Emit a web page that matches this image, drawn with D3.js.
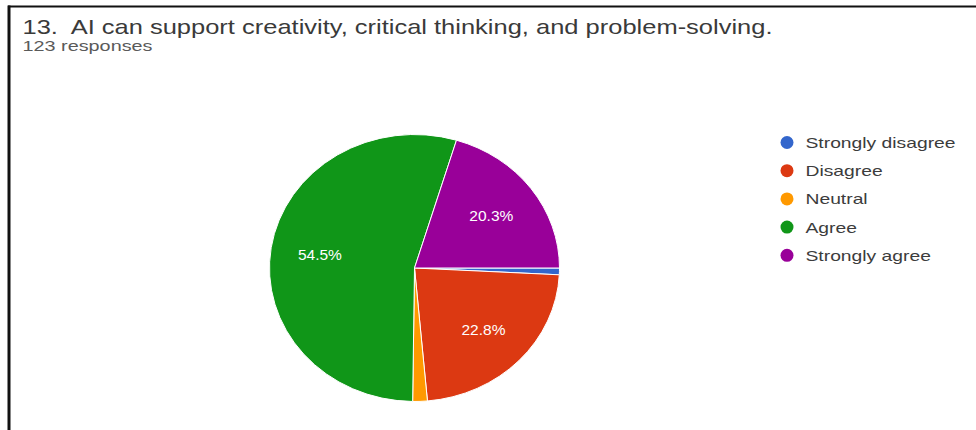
<!DOCTYPE html>
<html>
<head>
<meta charset="utf-8">
<script src="https://cdn.jsdelivr.net/npm/d3@7"></script>
<style>
  html, body { margin: 0; padding: 0; background: #fff; }
  svg { display: block; font-family: "Liberation Sans", Arial, sans-serif; }
  svg text { white-space: pre; }
</style>
</head>
<body>
<svg id="chart" width="976" height="430"></svg>
<script>
// Survey question and answer counts
const questionTitle = "13.  AI can support creativity, critical thinking, and problem-solving.";
const responseNote = "123 responses";
const categories = ["Strongly disagree", "Disagree", "Neutral", "Agree", "Strongly agree"];
const counts = [1, 28, 2, 67, 25];
const colors = ["#3366cc", "#dc3912", "#ff9900", "#109618", "#990099"];

const svg = d3.select("#chart");
const total = d3.sum(counts);

// Stretch a text element horizontally by a factor, using its natural length
function stretch(sel, factor) {
  sel.each(function () {
    const n = this.getComputedTextLength();
    d3.select(this).attr("textLength", n * factor).attr("lengthAdjust", "spacingAndGlyphs");
  });
}

// Frame lines (top and left)
svg.append("line").attr("x1", 8).attr("x2", 976).attr("y1", 6.5).attr("y2", 6.5)
  .attr("stroke", "#111").attr("stroke-width", 2);
svg.append("line").attr("x1", 9).attr("x2", 9).attr("y1", 5.5).attr("y2", 430)
  .attr("stroke", "#111").attr("stroke-width", 3);

// Title and response count
svg.append("text").attr("x", 22.5).attr("y", 34)
  .attr("font-size", 21).attr("fill", "#3a3a3a")
  .attr("textLength", 750).attr("lengthAdjust", "spacingAndGlyphs")
  .text(questionTitle);
svg.append("text").attr("x", 22.5).attr("y", 51)
  .attr("font-size", 14.5).attr("fill", "#5a5a5a")
  .attr("textLength", 130).attr("lengthAdjust", "spacingAndGlyphs")
  .text(responseNote);

// Pie
const cx = 414.5, cy = 268, ry = 133.5, rx = 145;
const sx = rx / ry;

const pie = d3.pie().sort(null).value(d => d.value)
  .startAngle(Math.PI / 2).endAngle(Math.PI / 2 + 2 * Math.PI);
const data = categories.map((c, i) => ({ name: c, value: counts[i], color: colors[i] }));
const arcs = pie(data);

const arc = d3.arc().innerRadius(0).outerRadius(ry);
const labelArc = d3.arc().innerRadius(ry * 0.66).outerRadius(ry * 0.66);

const pieG = svg.append("g").attr("transform", `translate(${cx},${cy}) scale(${sx},1)`);
pieG.selectAll("path").data(arcs).join("path")
  .attr("d", arc)
  .attr("fill", d => d.data.color)
  .attr("stroke", "#fff")
  .attr("stroke-width", 1)
  .attr("vector-effect", "non-scaling-stroke");

// Percentage labels on the larger slices
const labelG = svg.append("g").attr("transform", `translate(${cx},${cy})`);
labelG.selectAll("text").data(arcs.filter(d => d.data.value / total > 0.05)).join("text")
  .attr("x", d => labelArc.centroid(d)[0] * sx)
  .attr("y", d => labelArc.centroid(d)[1])
  .attr("text-anchor", "middle")
  .attr("dominant-baseline", "central")
  .attr("font-size", 15.5)
  .attr("fill", "#fff")
  .text(d => (d.data.value / total * 100).toFixed(1) + "%");

// Legend
const legend = svg.append("g").attr("transform", "translate(787,142.5)");
const item = legend.selectAll("g").data(data).join("g")
  .attr("transform", (d, i) => `translate(0,${i * 28.2})`);
item.append("circle").attr("r", 6.5).attr("fill", d => d.color);
const legendText = item.append("text").attr("x", 18.5).attr("y", 5.5)
  .attr("font-size", 15).attr("fill", "#3c3c3c")
  .text(d => d.name);
const natural = legendText.filter((d, i) => i === 0).node().getComputedTextLength();
stretch(legendText, 150 / natural);
</script>
</body>
</html>
